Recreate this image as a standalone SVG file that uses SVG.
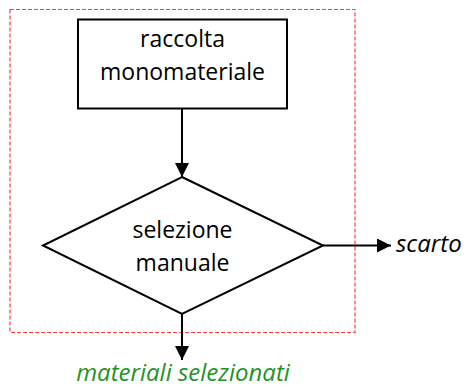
<svg xmlns="http://www.w3.org/2000/svg" width="467" height="389" viewBox="0 0 467 389">
<defs>
<marker id="ah" markerWidth="14" markerHeight="14" viewBox="0 0 14 14" refX="14" refY="7" orient="auto" markerUnits="userSpaceOnUse">
<path d="M0,0 L14,7 L0,14 Z" fill="#000"/>
</marker>
</defs>
<style>
.t{font-family:"Open Sans","Liberation Sans",sans-serif;font-size:23px;fill:#000;text-anchor:middle}
.i{font-family:"Open Sans","Liberation Sans",sans-serif;font-size:24px;font-style:italic}
.s{fill:#fff;stroke:#000;stroke-width:2}
.c{fill:none;stroke:#000;stroke-width:2;marker-end:url(#ah)}
</style>
<rect width="467" height="389" fill="#fff"/>
<rect id="boundary" x="10" y="9.5" width="345" height="323" fill="none" stroke="#ff3b3b" stroke-width="1.2" stroke-dasharray="4,2"/>
<g id="connectors">
<line class="c" x1="182" y1="108" x2="182" y2="177"/>
<line class="c" x1="323" y1="245.5" x2="391" y2="245.5"/>
<line class="c" x1="182" y1="314" x2="182" y2="360"/>
</g>
<g id="raccolta">
<rect class="s" x="78" y="19.5" width="209" height="89"/>
<text class="t" x="182.5" y="47">raccolta</text>
<text class="t" x="182.5" y="80">monomateriale</text>
</g>
<g id="selezione">
<polygon class="s" points="182,177 323,245.5 182,314 43,245.5"/>
<text class="t" x="182.5" y="238">selezione</text>
<text class="t" x="182.5" y="271">manuale</text>
</g>
<g id="scarto">
<text class="i" x="396" y="252" fill="#000">scarto</text>
</g>
<g id="materiali">
<text class="i" x="183" y="381" fill="#259225" text-anchor="middle" font-size="23">materiali selezionati</text>
</g>
</svg>
